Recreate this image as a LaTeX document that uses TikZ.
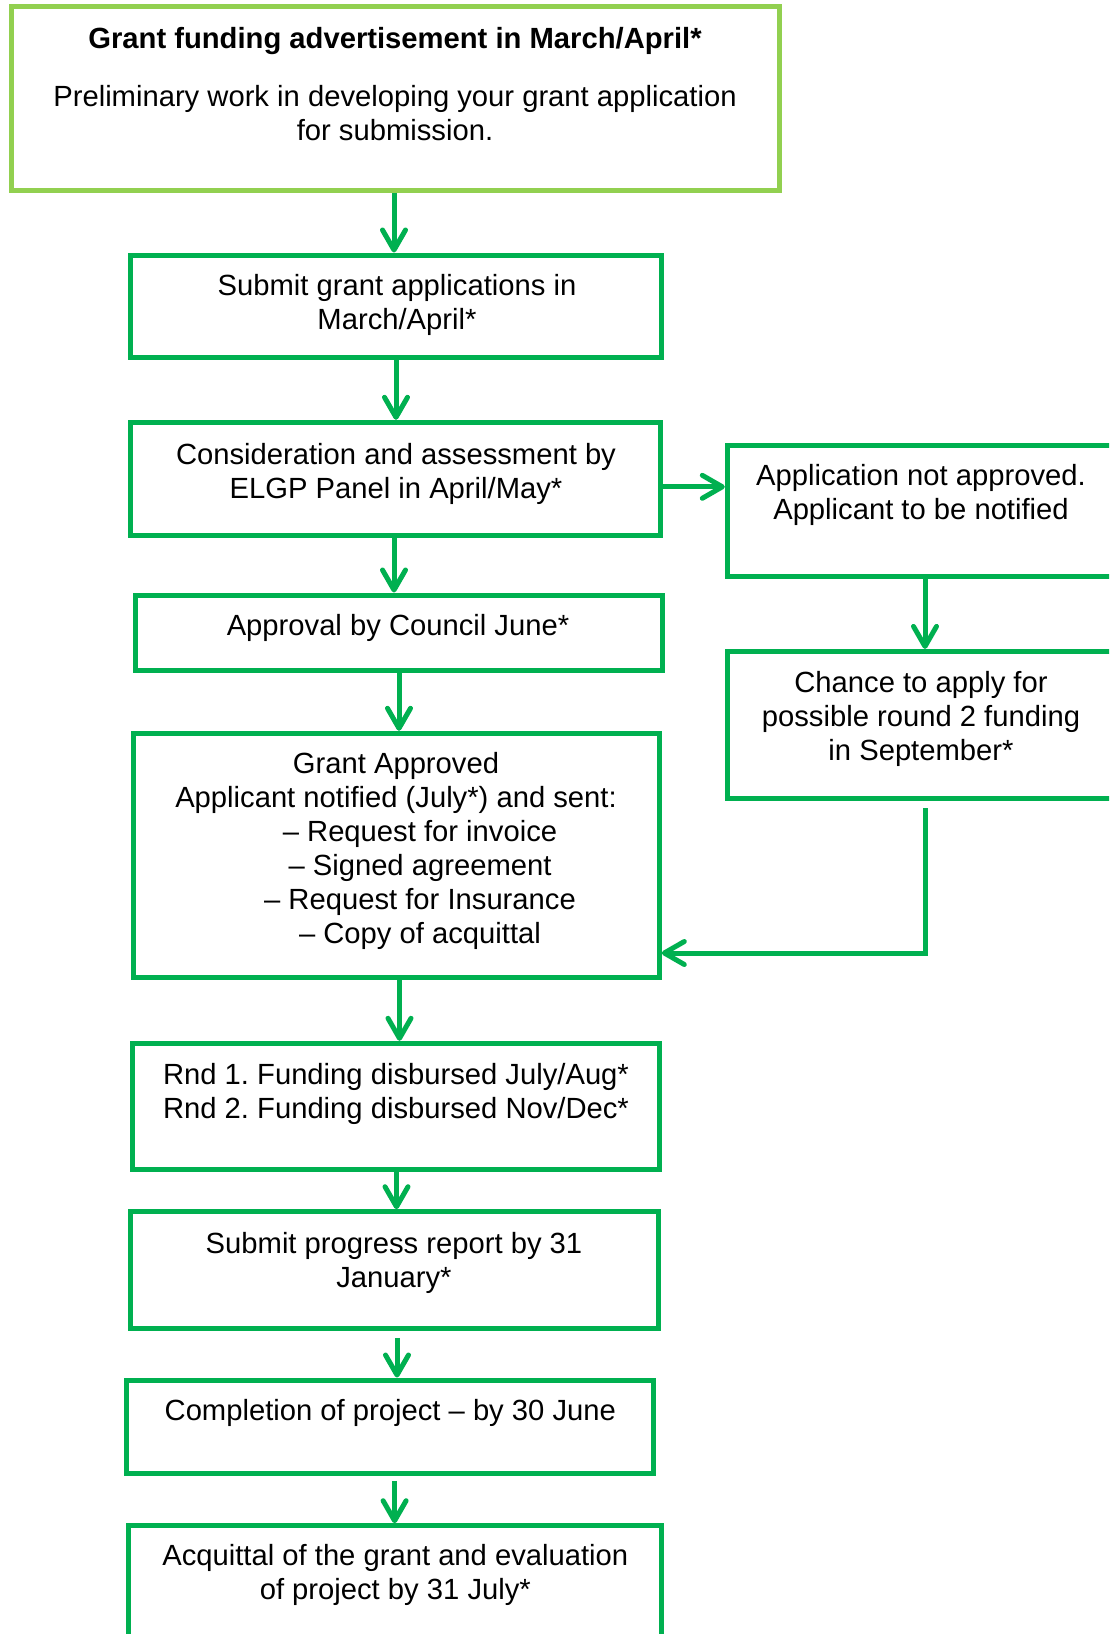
\documentclass[tikz,border=0pt]{standalone}
\usepackage{fontspec}
\setmainfont{Liberation Sans}
\usetikzlibrary{arrows.meta}
\definecolor{gd}{HTML}{00B050}
\definecolor{gl}{HTML}{92D050}
\frenchspacing
\begin{document}
\begin{tikzpicture}[x=0.5pt,y=-0.5pt,
  box/.style={draw=gd, line width=2.5pt, rectangle, inner sep=0pt},
  topbox/.style={box, draw=gl},
  txt/.style={align=center, anchor=base, inner sep=0pt, yshift=-0.8pt, font=\fontsize{14.6pt}{17pt}\selectfont},
  arr/.style={draw=gd, line width=2.5pt, -{Straight Barb[length=10pt,width=11.5pt,round]}}]
\useasboundingbox (0,0) rectangle (1109,1634);
\clip (0,0) rectangle (1109,1634);
% boxes
\node[topbox, minimum width=384.3pt, minimum height=92pt] (T) at (395.3,98.7) {};
\node[box, minimum width=265.15pt, minimum height=51.15pt] (B2) at (395.85,306.15) {};
\node[box, minimum width=264.85pt, minimum height=56.7pt] (B3) at (395.55,479) {};
\node[box, minimum width=263.95pt, minimum height=37.85pt] (B4) at (398.95,632.85) {};
\node[box, minimum width=263.05pt, minimum height=122.2pt] (B5) at (396.25,855.5) {};
\node[box, minimum width=263.25pt, minimum height=62.85pt] (B6) at (395.75,1106.15) {};
\node[box, minimum width=263.85pt, minimum height=58.3pt] (B7) at (394.55,1270) {};
\node[box, minimum width=263.6pt, minimum height=46.65pt] (B8) at (390,1426.65) {};
\node[box, minimum width=266.2pt, minimum height=77.15pt] (B9) at (394.8,1602.85) {};
\node[box, minimum width=201.35pt, minimum height=65.5pt] (R1) at (928.65,510.5) {};
\node[box, minimum width=201.35pt, minimum height=73.6pt] (R2) at (928.65,725) {};
% texts (anchor base = baseline of the last line)
\node[txt, font=\fontsize{14.6pt}{17pt}\selectfont\bfseries] (Tt) at (395,46.7) {Grant funding advertisement in March/April*};
\node[txt] (Tb) at (395,138.5) {Preliminary work in developing your grant application\\for submission.};
\node[txt] (t2) at (397,328.3) {Submit grant applications in\\March/April*};
\node[txt] (t3) at (396,496.7) {Consideration and assessment by\\ELGP Panel in April/May*};
\node[txt] (t4) at (398,634.3) {Approval by Council June*};
\node[txt] (t5) at (396,941.7) {Grant Approved\\Applicant notified (July*) and sent:\\\hspace*{24pt}– Request for invoice\\\hspace*{24pt}– Signed agreement\\\hspace*{24pt}– Request for Insurance\\\hspace*{24pt}– Copy of acquittal};
\node[txt] (t6) at (396,1117.3) {Rnd 1. Funding disbursed July/Aug*\\Rnd 2. Funding disbursed Nov/Dec*};
\node[txt] (t7) at (394,1285.7) {Submit progress report by 31\\January*};
\node[txt] (t8) at (390.3,1419) {Completion of project – by 30 June};
\node[txt] (t9) at (395.3,1598.3) {Acquittal of the grant and evaluation\\of project by 31 July*};
\node[txt] (r1) at (921,518.2) {Application not approved.\\Applicant to be notified};
\node[txt] (r2) at (921,758.6) {Chance to apply for\\possible round 2 funding\\in September*};
% connector helper coordinates
\coordinate (xa1) at (394,0);
\coordinate (xa2) at (396,0);
\coordinate (xa3) at (394,0);
\coordinate (xa4) at (399,0);
\coordinate (xa5) at (399.5,0);
\coordinate (xa6) at (396.5,0);
\coordinate (xa7) at (397,0);
\coordinate (xa8) at (394.6,0);
\coordinate (xr) at (925,0);
\coordinate (yh) at (0,486.8);
\coordinate (ye) at (0,953);
% connectors
\draw[arr] (T.south -| xa1) -- (B2.north -| xa1);
\draw[arr] (B2.south -| xa2) -- (B3.north -| xa2);
\draw[arr] (B3.south -| xa3) -- (B4.north -| xa3);
\draw[arr] (B4.south -| xa4) -- (B5.north -| xa4);
\draw[arr] (B5.south -| xa5) -- (B6.north -| xa5);
\draw[arr] (B6.south -| xa6) -- (B7.north -| xa6);
\draw[arr, shorten <=3.5pt] (B7.south -| xa7) -- (B8.north -| xa7);
\draw[arr, shorten <=2.5pt] (B8.south -| xa8) -- (B9.north -| xa8);
\draw[arr] (B3.east |- yh) -- (R1.west |- yh);
\draw[arr] (R1.south -| xr) -- (R2.north -| xr);
\draw[arr, shorten <=3.5pt] (R2.south -| xr) |- (B5.east |- ye);
\end{tikzpicture}
\end{document}
